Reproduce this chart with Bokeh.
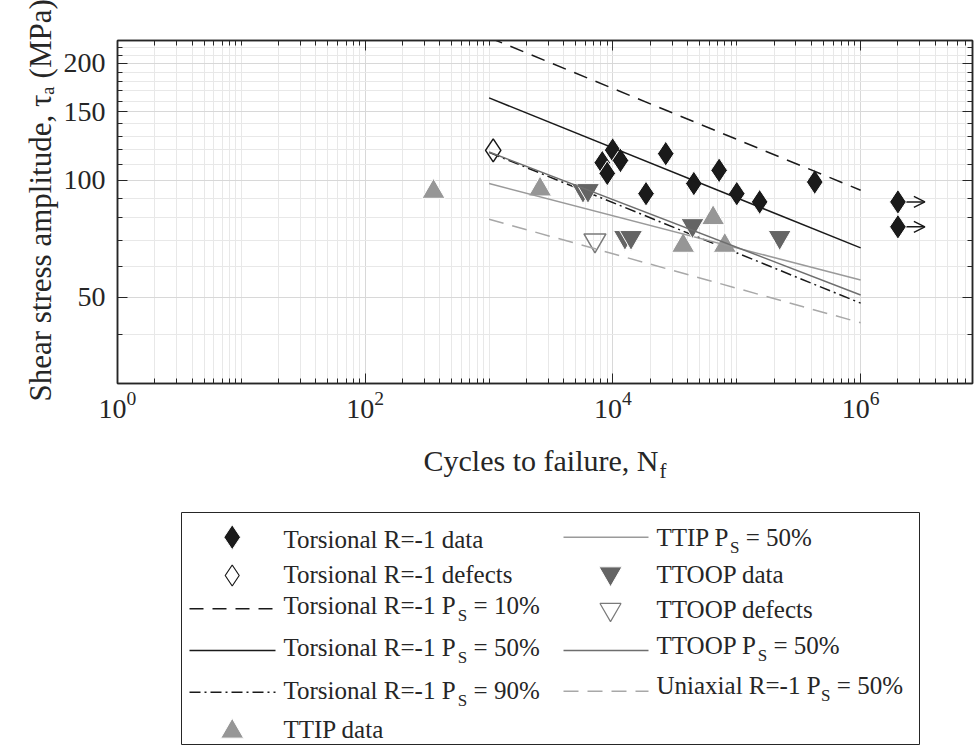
import math
from bokeh.plotting import figure
from bokeh.models import (Range1d, FixedTicker, LogTickFormatter, BasicTickFormatter,
                          LogAxis, Arrow, OpenHead, ColumnDataSource, CustomJSTickFormatter)
from bokeh.layouts import column
from bokeh.embed import file_html
from bokeh.resources import INLINE
from bokeh.core.properties import value

# ---------------- data ----------------
tors_N = [8.2e3, 9.95e3, 1.15e4, 9.0e3, 2.67e4, 1.85e4, 4.5e4, 7.2e4, 1.0e5, 1.53e5, 4.26e5]
tors_S = [111.0, 119.6, 112.5, 104.2, 117.1, 92.4, 98.1, 106.1, 92.4, 88.0, 99.0]
runout_N = [2.0e6, 2.0e6]
runout_S = [88.0, 75.9]
runout_arrow_end_N = [3.3e6, 3.3e6]
tors_def_N = [1.08e3]
tors_def_S = [119.4]
ttip_N = [356, 2.58e3, 3.69e4, 6.44e4, 8.0e4]
ttip_S = [93.5, 94.8, 67.9, 80.0, 67.9]
ttoop_N = [5.73e3, 6.29e3, 1.25e4, 1.40e4, 4.39e4, 2.22e5]
ttoop_S = [94.3, 94.3, 71.4, 71.4, 76.6, 71.4]
ttoop_def_N = [7.16e3]
ttoop_def_S = [70.1]
fit_N = [1e3, 1e6]
tors10_S = [233.0, 94.3]
tors50_S = [163.0, 67.0]
tors90_S = [118.0, 48.3]
ttip50_S = [98.1, 55.4]
ttoop50_S = [118.3, 50.7]
uni50_S = [79.4, 43.0]
x_tick_values = [1, 1e2, 1e4, 1e6]
y_tick_values = [50, 100, 150, 200]
y_title = "Shear stress amplitude, τₐ (MPa)"
x_title, x_title_sub = "Cycles to failure, N", "f"

# ---------------- styling ----------------
FONT = "Liberation Serif"
INK = "#262626"
BLACK = "#1a1a1a"
TTIP_C = "#969696"
TTOOP_C = "#646464"
TTOOP_DEF_C = "#7a7a7a"
TTIP_LINE = "#9a9a9a"
TTOOP_LINE = "#6e6e6e"
UNI_LINE = "#a8a8a8"
GRID_MAJ = "#d8d8d8"
GRID_MIN = "#e8e8e8"

W = {' ': 250, 'T': 611, 'o': 500, 'r': 333, 's': 389, 'i': 278, 'n': 500, 'a': 444, 'l': 278,
     'R': 667, '=': 564, '-': 333, '1': 500, 'P': 556, 'S': 556, '0': 500, '5': 500, '9': 500,
     '%': 833, 'I': 333, 'O': 722, 'U': 722, 'x': 500, 'd': 500, 't': 278, 'e': 444, 'f': 333,
     'c': 444, 'C': 667, 'y': 500, 'u': 500, 'N': 722, ',': 250, 'h': 500, 'm': 778, 'p': 500,
     '(': 333, ')': 333, 'M': 889}


def tw(s, px):
    return sum(W.get(c, 500) for c in s) * px / 1000.0


# page-pixel geometry of the plot frame
FL, FR, FT, FB = 117, 972, 40, 383
X_LO, X_HI = 1.0, 8e6
Y_LO, Y_HI = 30.0, 229.0

P_H = 440
p = figure(width=974, height=P_H, x_axis_type="log", y_axis_type="log",
           x_range=Range1d(X_LO, X_HI), y_range=Range1d(Y_LO, Y_HI),
           output_backend="svg", toolbar_location=None,
           min_border_left=FL, min_border_right=974 - FR, min_border_top=FT,
           min_border_bottom=P_H - FB,
           background_fill_color="white", border_fill_color="white")
p.outline_line_color = INK
p.outline_line_width = 1.5

x_minor = [m * 10 ** k for k in range(0, 7) for m in range(1, 10)
           if m * 10 ** k <= X_HI and (m * 10 ** k) not in x_tick_values]
y_minor = [v for v in range(30, 230, 10) if v not in y_tick_values]
xt = FixedTicker(ticks=x_tick_values, minor_ticks=x_minor)
yt = FixedTicker(ticks=y_tick_values, minor_ticks=y_minor)

p.xaxis.ticker = xt
p.xaxis.formatter = LogTickFormatter()
p.yaxis.ticker = yt
p.yaxis.formatter = BasicTickFormatter()
p.xgrid.ticker = xt
p.ygrid.ticker = yt
for g in (p.xgrid, p.ygrid):
    g.grid_line_color = GRID_MAJ
    g.grid_line_width = 1
    g.minor_grid_line_color = GRID_MIN
    g.minor_grid_line_width = 1

for ax in (p.xaxis, p.yaxis):
    ax.axis_line_color = INK
    ax.axis_line_width = 1.5
    ax.major_tick_line_color = INK
    ax.minor_tick_line_color = INK
    ax.major_tick_in = 10
    ax.major_tick_out = 0
    ax.minor_tick_in = 5
    ax.minor_tick_out = 0
    ax.major_label_text_font = FONT
    ax.major_label_text_font_size = "28px"
    ax.major_label_text_color = INK
p.xaxis.major_label_standoff = 8
p.yaxis.major_label_standoff = 12

# leading no-break spaces nudge the centred title upward, as in the reference
p.yaxis.axis_label = "\u00a0\u00a0\u00a0" + y_title
p.yaxis.axis_label_text_font = FONT
p.yaxis.axis_label_text_font_size = "31px"
p.yaxis.axis_label_text_font_style = "normal"
p.yaxis.axis_label_text_color = INK
p.yaxis.axis_label_standoff = 3

blank = CustomJSTickFormatter(code="return ''")
for loc, tk in (("above", xt), ("right", yt)):
    ax = LogAxis(ticker=tk, formatter=blank, major_label_text_font_size="0px",
                 major_label_standoff=0, axis_line_color=INK, axis_line_width=1.5,
                 major_tick_in=10, major_tick_out=0, minor_tick_in=5, minor_tick_out=0,
                 major_tick_line_color=INK, minor_tick_line_color=INK)
    p.add_layout(ax, loc)

# run-out arrows (under markers)
arrow_src = ColumnDataSource(dict(x0=runout_N, x1=runout_arrow_end_N, y=runout_S))
p.add_layout(Arrow(end=OpenHead(size=11, line_width=1.5, line_color=BLACK),
                   x_start="x0", y_start="y", x_end="x1", y_end="y", source=arrow_src,
                   line_color=BLACK, line_width=1.5, level="underlay"))

# series in the original plotting order
p.scatter(tors_N, tors_S, marker="diamond", size=25, fill_color=BLACK, line_color="white", line_width=1)
p.scatter(runout_N, runout_S, marker="diamond", size=25, fill_color=BLACK, line_color="white", line_width=1)
p.scatter(tors_def_N, tors_def_S, marker="diamond", size=23, fill_alpha=0, line_color=BLACK, line_width=1.5)
p.line(fit_N, tors10_S, line_color=BLACK, line_width=1.5, line_dash="14 9")
p.line(fit_N, tors50_S, line_color=BLACK, line_width=1.5)
p.line(fit_N, tors90_S, line_color=BLACK, line_width=1.5, line_dash="11 4 2 4")
p.scatter(ttip_N, ttip_S, marker="triangle", size=23, fill_color=TTIP_C, line_color="white", line_width=1)
p.line(fit_N, ttip50_S, line_color=TTIP_LINE, line_width=1.5)
p.scatter(ttoop_N, ttoop_S, marker="inverted_triangle", size=23, fill_color=TTOOP_C, line_color="white", line_width=1)
p.scatter(ttoop_def_N, ttoop_def_S, marker="inverted_triangle", size=22, fill_alpha=0,
          line_color=TTOOP_DEF_C, line_width=1.5)
p.line(fit_N, ttoop50_S, line_color=TTOOP_LINE, line_width=1.5)
p.line(fit_N, uni50_S, line_color=UNI_LINE, line_width=1.5, line_dash="15 9")

# ---------------- lower canvas: x title + legend (page pixel coordinates) ----------------
Q_H = 746 - P_H
q = figure(width=974, height=Q_H, x_range=Range1d(FL, FR), y_range=Range1d(746, P_H),
           output_backend="svg", toolbar_location=None,
           min_border_left=FL, min_border_right=974 - FR, min_border_top=0, min_border_bottom=0,
           x_axis_location=None, y_axis_location=None, outline_line_color=None,
           background_fill_color="white", border_fill_color="white")
q.grid.visible = False

TXT_DY = -8  # renderer places alphabetic baselines slightly low; compensate
AX = 30
SUB = 21
xl_x, xl_y = 423, 468 + TXT_DY
q.text([xl_x], [xl_y], text=[x_title], text_font=value(FONT),
       text_font_size=value(f"{AX}px"), text_color=INK, text_baseline="alphabetic", text_align="left")
q.text([xl_x + tw(x_title, AX) + 1], [xl_y + 10], text=[x_title_sub], text_font=value(FONT),
       text_font_size=value(f"{SUB}px"), text_color=INK, text_baseline="alphabetic", text_align="left")

q.quad(left=[181], right=[919], top=[512], bottom=[744], fill_color="white",
       line_color=INK, line_width=1)

LF = 25
LS = 17
lmx, l0, l1 = 231.7, 189, 275
rmx, r0, r1 = 610, 563, 648
q.scatter([lmx], [536.7], marker="diamond", size=25, fill_color=BLACK, line_color="white", line_width=1)
q.scatter([lmx], [575], marker="diamond", size=21, fill_alpha=0, line_color=BLACK, line_width=1.2)
q.line([l0, l1], [608.3, 608.3], line_color=BLACK, line_width=1.5, line_dash="14 9")
q.line([l0, l1], [650, 650], line_color=BLACK, line_width=1.5)
q.line([l0, l1], [691.7, 691.7], line_color=BLACK, line_width=1.5, line_dash="11 4 2 4")
q.scatter([lmx], [731], marker="triangle", size=23, fill_color=TTIP_C, line_color="white", line_width=1)
q.line([r0, r1], [536.7, 536.7], line_color=TTIP_LINE, line_width=1.5)
q.scatter([rmx], [573], marker="inverted_triangle", size=23, fill_color=TTOOP_C, line_color="white", line_width=1)
q.scatter([rmx], [609], marker="inverted_triangle", size=21, fill_alpha=0, line_color=TTOOP_DEF_C, line_width=1.2)
q.line([r0, r1], [650, 650], line_color=TTOOP_LINE, line_width=1.5)
q.line([r0, r1], [690.7, 690.7], line_color=UNI_LINE, line_width=1.5, line_dash="15 9")

legend_rows = [
    (283, 546.7, "Torsional R=-1 data", None, None),
    (283, 581.7, "Torsional R=-1 defects", None, None),
    (283, 613, "Torsional R=-1 P", "S", "= 10%"),
    (283, 655, "Torsional R=-1 P", "S", "= 50%"),
    (283, 698, "Torsional R=-1 P", "S", "= 90%"),
    (283, 736.7, "TTIP data", None, None),
    (656, 545, "TTIP P", "S", "= 50%"),
    (656, 581.7, "TTOOP data", None, None),
    (656, 616.7, "TTOOP defects", None, None),
    (656, 653, "TTOOP P", "S", "= 50%"),
    (656, 693, "Uniaxial R=-1 P", "S", "= 50%"),
]
mx, my, mt, sx, sy, st, tx, ty, tt = [], [], [], [], [], [], [], [], []
for x0, yb, head, sub, tail in legend_rows:
    yb = yb + TXT_DY
    mx.append(x0); my.append(yb); mt.append(head)
    if sub:
        xs = x0 + tw(head, LF) + 0.5
        sx.append(xs); sy.append(yb + 10); st.append(sub)
        tx.append(xs + tw(sub, LS) + tw(" ", LF)); ty.append(yb); tt.append(tail)
q.text(mx, my, text=mt, text_font=value(FONT), text_font_size=value(f"{LF}px"),
       text_color=INK, text_baseline="alphabetic", text_align="left")
q.text(sx, sy, text=st, text_font=value(FONT), text_font_size=value(f"{LS}px"),
       text_color=INK, text_baseline="alphabetic", text_align="left")
q.text(tx, ty, text=tt, text_font=value(FONT), text_font_size=value(f"{LF}px"),
       text_color=INK, text_baseline="alphabetic", text_align="left")

layout = column(p, q, spacing=0)
open("out.html", "w").write(file_html(layout, INLINE))
